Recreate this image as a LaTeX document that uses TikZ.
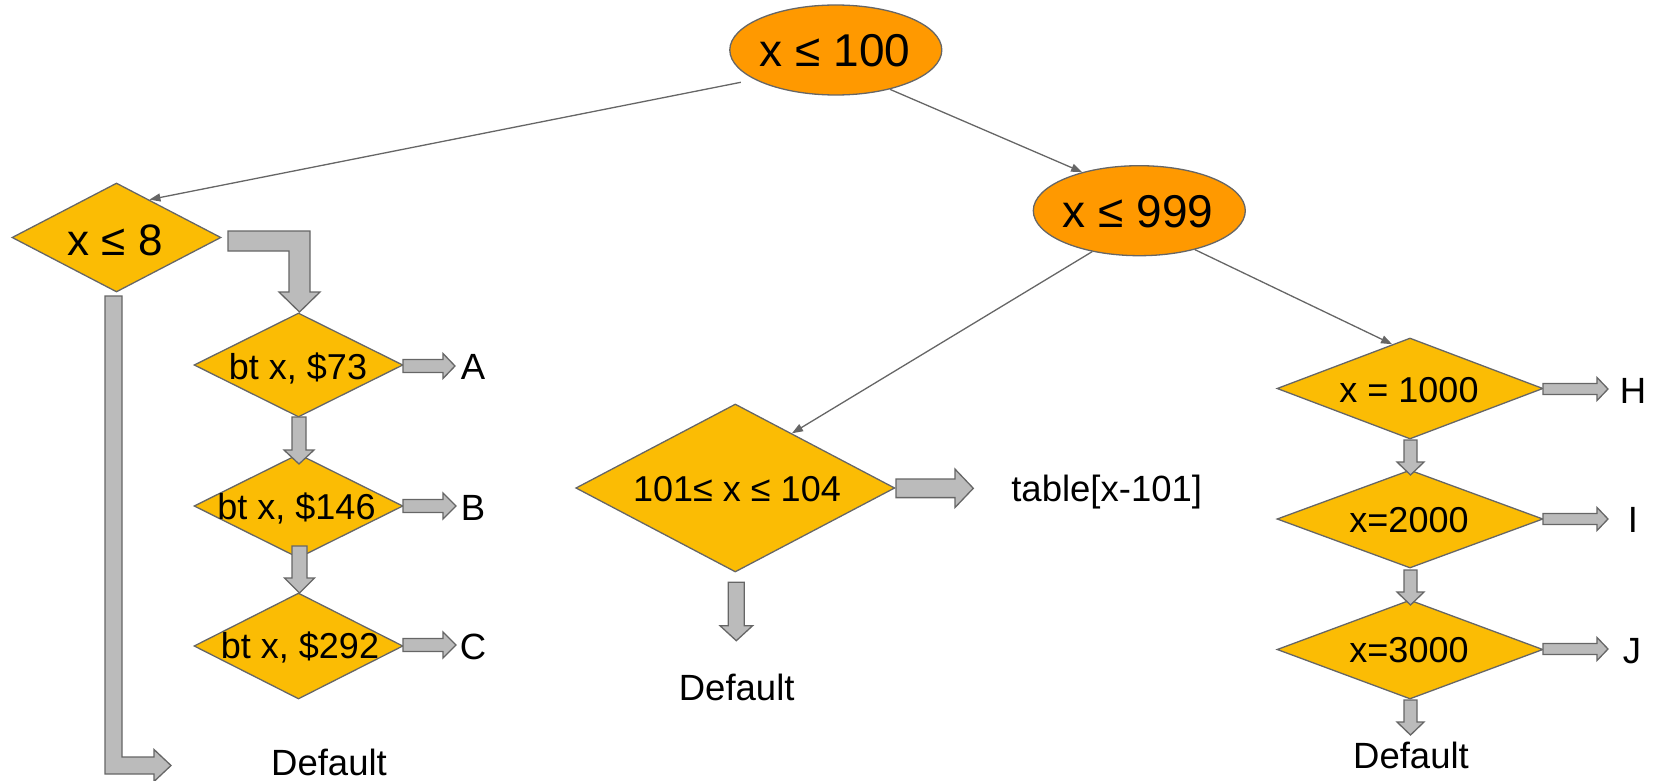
\documentclass[tikz,border=0pt]{standalone}
\usepackage{fontspec}
\setmainfont{Liberation Sans}
\usetikzlibrary{shapes.geometric,arrows.meta}
\definecolor{ellfill}{HTML}{FF9900}
\definecolor{diafill}{HTML}{FBBC04}
\definecolor{edgec}{HTML}{666666}
\definecolor{fatfill}{HTML}{BBBBBB}
% right-pointing fat arrow: x1, xtip, ycenter, shaft half, head half, head length
\newcommand\fatright[6]{\filldraw[fat] (#1,#3-#4) -- (#2-#6,#3-#4) -- (#2-#6,#3-#5) -- (#2,#3) -- (#2-#6,#3+#5) -- (#2-#6,#3+#4) -- (#1,#3+#4) -- cycle;}
% down-pointing fat arrow: xcenter, y1, ytip, shaft half, head half, head length
\newcommand\fatdown[6]{\filldraw[fat] (#1-#4,#2) -- (#1-#4,#3-#6) -- (#1-#5,#3-#6) -- (#1,#3) -- (#1+#5,#3-#6) -- (#1+#4,#3-#6) -- (#1+#4,#2) -- cycle;}
\begin{document}
\begin{tikzpicture}[x=1pt,y=-1pt,
  dia/.style={diamond, draw=edgec, fill=diafill, line width=1.3pt, inner sep=0pt},
  ell/.style={ellipse, draw=edgec, fill=ellfill, line width=1.3pt, inner sep=0pt, minimum width=212pt, minimum height=90pt},
  fat/.style={draw=edgec, fill=fatfill, line width=1.3pt, line join=miter},
  thin/.style={draw=edgec, line width=1.3pt, -{Triangle[length=11pt,width=8pt]}},
  dtxt/.style={font=\fontsize{36}{40}\selectfont, anchor=base, inner sep=0pt},
  etxt/.style={font=\fontsize{46}{50}\selectfont, anchor=base, inner sep=0pt},
  lbl/.style={font=\fontsize{36.5}{40}\selectfont, anchor=base, inner sep=0pt}]
\useasboundingbox (0,0) rectangle (1659,781);

% ellipses
\node[ell] (e1) at (835.8,50) {};
\node[etxt] (t1) at (835,67) {x ≤ 100};
\node[ell] (e2) at (1139.3,210.7) {};
\node[etxt] (t2) at (1138,227.3) {x ≤ 999};

% diamonds
\node[dia, minimum width=209pt, minimum height=109pt] (d8) at (116.5,237.5) {};
\node[dtxt, font=\fontsize{44}{48}\selectfont] (t8) at (115,255) {x ≤ 8};
\node[dia, minimum width=209pt, minimum height=104pt] (d73) at (298.5,365) {};
\node[dtxt] (t73) at (298,379) {bt x, \$73};
\node[dia, minimum width=209pt, minimum height=104pt] (d146) at (298.5,506) {};
\node[dtxt] (t146) at (296.5,519) {bt x, \$146};
\node[dia, minimum width=209pt, minimum height=106pt] (d292) at (298.5,646) {};
\node[dtxt] (t292) at (300,658) {bt x, \$292};
\node[dia, minimum width=319pt, minimum height=168pt] (dm) at (735.3,488) {};
\node[dtxt] (tm) at (737,501.7) {101≤ x ≤ 104};
\node[dia, minimum width=266pt, minimum height=101pt] (d1000) at (1410,388.5) {};
\node[dtxt] (t1000) at (1409,402) {x = 1000};
\node[dia, minimum width=266pt, minimum height=98pt] (d2000) at (1410,519) {};
\node[dtxt] (t2000) at (1409,532) {x=2000};
\node[dia, minimum width=266pt, minimum height=99pt] (d3000) at (1410,649.5) {};
\node[dtxt] (t3000) at (1409,662) {x=3000};

% thin connectors
\draw[thin, shorten <=14pt] (e1.200.4) -- (d8.49.7);
\draw[thin] (e1.324.3) -- (e2.146.6);
\draw[thin] (e2.221.4) -- (dm.44.5);
\draw[thin] (e2.325.1) -- (d1000.112);

% fat arrows, left column
\filldraw[fat] (228,231) -- (310,231) -- (310,292) -- (320,292) -- (299.5,312) -- (279,292) -- (289,292) -- (289,251) -- (228,251) -- cycle;
\filldraw[fat] (105,296) -- (122,296) -- (122,757) -- (154,757) -- (154,749.5) -- (171,765.5) -- (154,781.5) -- (154,774) -- (105,774) -- cycle;
\fatdown{299}{417}{464}{7}{15}{14}
\fatdown{299.5}{546}{593}{7.5}{15}{15}
\fatright{403}{455}{366}{6.5}{12.5}{12}
\fatright{403}{456}{506}{6.5}{13}{13}
\fatright{403}{456}{645}{6.5}{13}{13}

% middle
\fatright{896}{973.3}{488.3}{9.3}{19.2}{18.3}
\fatdown{736.3}{582.3}{640.7}{8}{16.3}{15}

% right column
\fatright{1543}{1608}{389}{5.5}{11.5}{11}
\fatright{1543}{1608}{519}{5.5}{11.5}{11}
\fatright{1543}{1608}{649}{5.5}{11.5}{11}
\fatdown{1410.5}{440}{475}{6.5}{13.5}{13}
\fatdown{1410.5}{570}{605}{6.5}{13.5}{13}
\fatdown{1410.5}{700}{735}{6.5}{13.5}{13}

% labels
\node[lbl] (lA) at (473,379) {A};
\node[lbl] (lB) at (473,520) {B};
\node[lbl] (lC) at (473,659) {C};
\node[lbl] (ldl) at (329,775) {Default};
\node[lbl] (ltab) at (1106.7,501.7) {table[x-101]};
\node[lbl] (ldm) at (736.7,700.7) {Default};
\node[lbl] (lH) at (1633,403) {H};
\node[lbl] (lI) at (1633,532) {I};
\node[lbl] (lJ) at (1632,663) {J};
\node[lbl] (ldr) at (1411,768) {Default};
\end{tikzpicture}
\end{document}
